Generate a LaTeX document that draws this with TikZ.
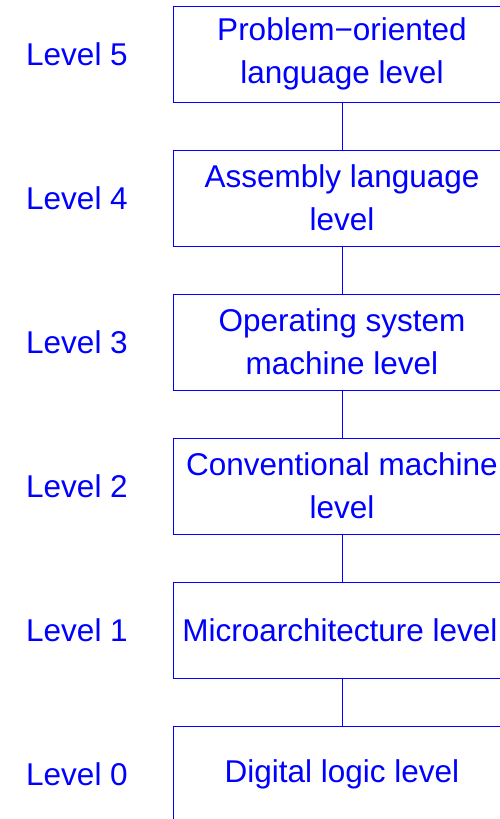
\documentclass[tikz,border=0pt]{standalone}
\usepackage{fontspec}
\setmainfont{Liberation Sans}
\usepackage{tikz}
\definecolor{levelblue}{RGB}{0,0,255}
\tikzset{
	levelbox/.style={draw=levelblue, line width=1pt, text=levelblue, minimum width=338pt, minimum height=96pt, align=center, inner sep=0pt, font=\fontsize{31.5}{43}\selectfont},
	levellabel/.style={text=levelblue, font=\fontsize{31.5}{43}\selectfont},
	levelline/.style={draw=levelblue, line width=1pt}
}

\begin{document}
\begin{tikzpicture}[x=1pt, y=1pt]
	\clip (0,0) rectangle (500,-819);
	\node[levelbox] (l5) at (342,-54) {Problem−oriented\\language level};
	\node[levelbox] (l4) at (342,-198) {Assembly language\\level};
	\node[levelbox] (l3) at (342,-342) {Operating system\\machine level};
	\node[levelbox] (l2) at (342,-486) {Conventional machine\\level};
	\node[levelbox] (l1) at (342,-630) {Microarchitecture level\hspace*{4pt}};
	\node[levelbox] (l0) at (342,-774) {Digital logic level};
	
	\node[levellabel] (t5) at (77,-54) {Level 5};
	\node[levellabel] (t4) at (77,-198) {Level 4};
	\node[levellabel] (t3) at (77,-342) {Level 3};
	\node[levellabel] (t2) at (77,-486) {Level 2};
	\node[levellabel] (t1) at (77,-630) {Level 1};
	\node[levellabel] (t0) at (77,-774) {Level 0};
	
	% connectors
	\draw[levelline] (l5.south) -- (l4.north);
	\draw[levelline] (l4.south) -- (l3.north);
	\draw[levelline] (l3.south) -- (l2.north);
	\draw[levelline] (l2.south) -- (l1.north);
	\draw[levelline] (l1.south) -- (l0.north);
\end{tikzpicture}
\end{document}
